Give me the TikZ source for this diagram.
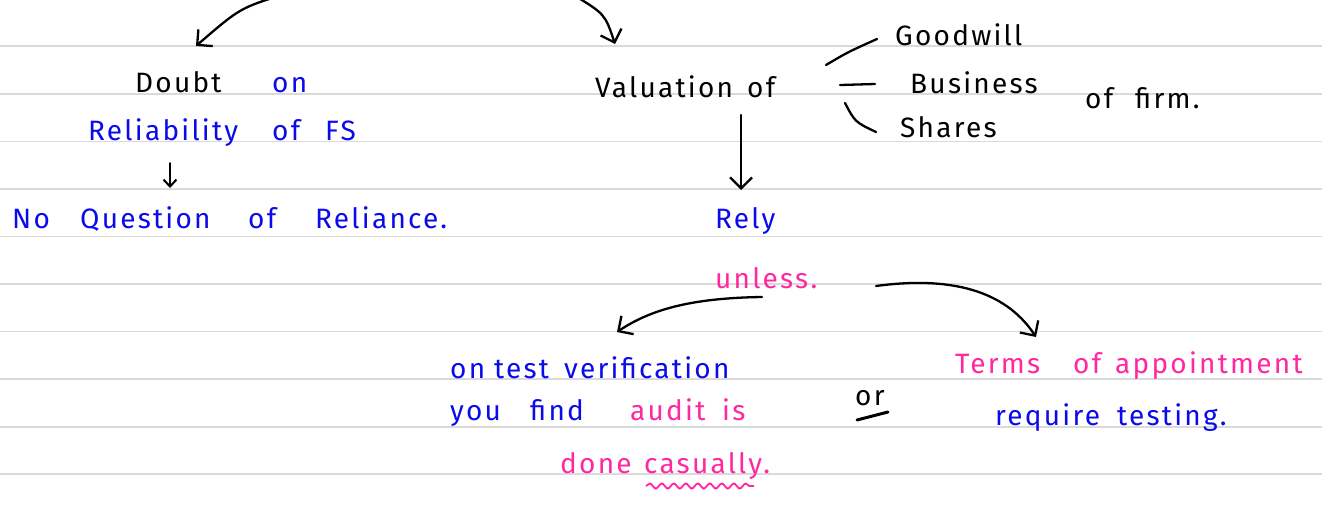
\documentclass[tikz,border=0pt]{standalone}
\usepackage{fontspec}
\setmainfont{Fira Sans}
\usetikzlibrary{arrows.meta,decorations.pathmorphing}
\definecolor{hblue}{RGB}{10,10,235}
\definecolor{hpink}{RGB}{255,40,160}
\definecolor{rule}{RGB}{218,218,218}
\newcommand{\wbox}[2]{\makebox[#1pt][l]{#2}}
\tikzset{
  txt/.style={anchor=base west,inner sep=0pt,font=\fontsize{28}{32}\selectfont\addfontfeature{LetterSpace=8}},
  arr/.style={line width=2.3pt,line cap=round,-{Straight Barb[length=11pt,width=22pt,line width=2.3pt]}},
  pen/.style={line width=2.3pt,line cap=round},
  ruled/.style={draw=rule,line width=1.3pt}
}
\begin{document}
\begin{tikzpicture}[x=1pt,y=-1pt]
\useasboundingbox[fill=white] (0,0) rectangle (1322,504);
\foreach \yy in {46,94,141.5,189,236.5,284,331.5,379,427,474}
  \draw[ruled] (0,\yy) -- (1322,\yy);
% texts
\node[txt] (doubt) at (135,92) {\wbox{137}{Doubt}\textcolor{hblue}{on}};
\node[txt,text=hblue] (reli) at (88,140) {\wbox{184}{Reliability}\wbox{53}{of}FS};
\node[txt,text=hblue] (noq) at (12,228) {\wbox{68}{No}\wbox{168}{Question}\wbox{67}{of}Reliance.};
\node[txt] (val) at (595,97) {\wbox{152}{Valuation}of};
\node[txt] (good) at (895,45) {Goodwill};
\node[txt] (bus) at (910,93) {Business};
\node[txt] (sha) at (900,137) {Shares};
\node[txt] (firm) at (1085,108) {\wbox{50}{of}firm.};
\node[txt,text=hblue] (rely) at (715,228) {Rely};
\node[txt,text=hpink] (unl) at (715,288) {unless.};
\node[txt,text=hblue] (ontest) at (450,378) {\wbox{44}{on}\wbox{70}{test}verification};
\node[txt,text=hblue] (you) at (450,420) {\wbox{80}{you}\wbox{100}{find}\textcolor{hpink}{\wbox{92}{audit}is}};
\node[txt,text=hpink] (done) at (560,473) {\wbox{84}{done}casually.};
\node[txt] (or) at (855,405) {or};
\node[txt,text=hpink] (terms) at (955,373) {\wbox{118}{Terms}\wbox{42}{of}appointment};
\node[txt,text=hblue] (req) at (995,425) {\wbox{122}{require}testing.};
% connectors
\coordinate (topL) at (285,-6);
\coordinate (tipL) at (196,46);
\coordinate (topR) at (572,-6);
\coordinate (tipR) at (615,44);
\draw[arr] (topL) .. controls (240,8) .. (tipL);
\draw[arr] (topR) .. controls (605,14) .. (tipR);
\coordinate (sa1) at (170,163);
\coordinate (sa2) at (170,188);
\draw[line width=2pt,line cap=round,-{Straight Barb[length=7pt,width=13pt,line width=2pt]}] (sa1) -- (sa2);
\coordinate (vd1) at (741,115);
\coordinate (vd2) at (741,190);
\draw[arr] (vd1) -- (vd2);
\coordinate (b1) at (826,65);
\coordinate (b1e) at (877,39);
\coordinate (b2) at (840,85);
\coordinate (b2e) at (875,84);
\coordinate (b3) at (845,103);
\coordinate (b3e) at (876,132);
\draw[pen] (b1) .. controls (848,52) .. (b1e);
\draw[pen] (b2) -- (b2e);
\draw[pen] (b3) .. controls (855,122) .. (b3e);
\coordinate (ul1) at (762,297);
\coordinate (ulT) at (617,332);
\coordinate (ur1) at (876,286);
\coordinate (urT) at (1036,337);
\draw[arr] (ul1) .. controls (690,298) and (650,310) .. (ulT);
\draw[arr] (ur1) .. controls (950,276) and (1005,290) .. (urT);
% or underline
\coordinate (oru1) at (857,420);
\coordinate (oru2) at (888,412);
\draw[line width=3pt,line cap=round] (oru1) -- (oru2);
% wavy underline under casually
\coordinate (wv1) at (646,486);
\coordinate (wv2) at (754,486);
\draw[hpink,line width=1.8pt,decorate,decoration={snake,amplitude=2.5pt,segment length=12pt}] (wv1) -- (wv2);
\end{tikzpicture}
\end{document}
